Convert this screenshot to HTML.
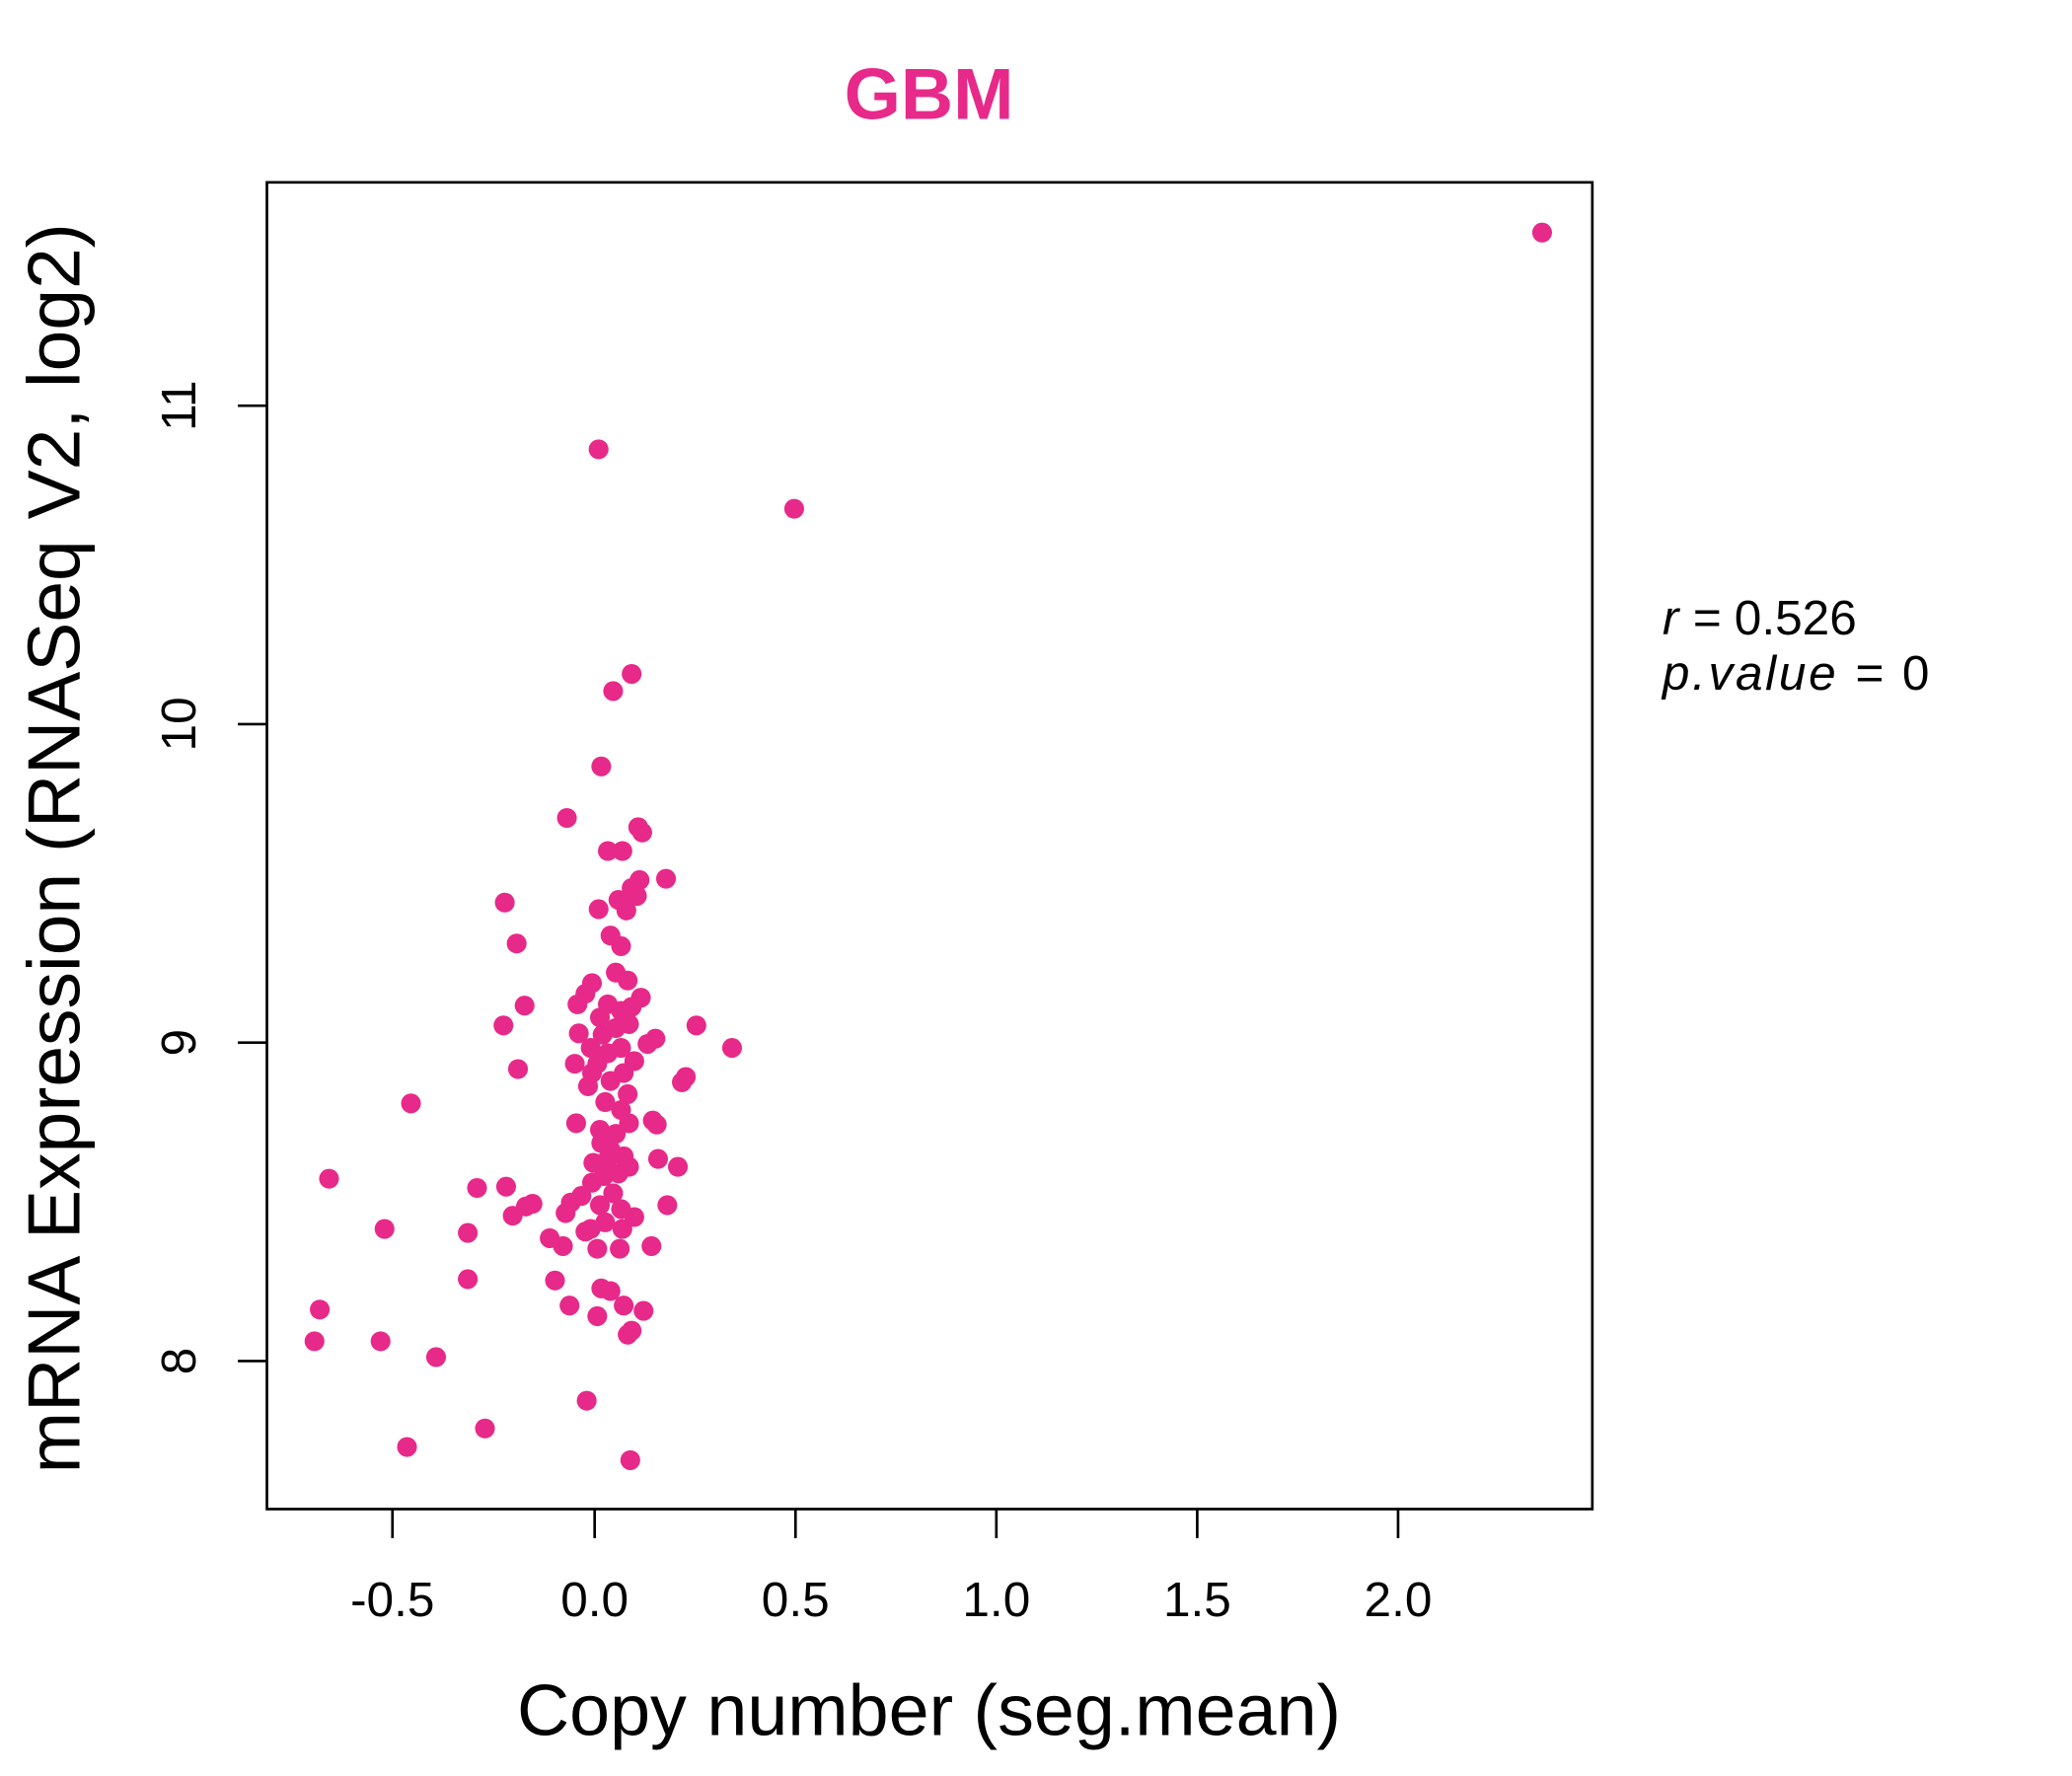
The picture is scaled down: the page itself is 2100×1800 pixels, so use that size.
<!DOCTYPE html>
<html><head><meta charset="utf-8"><style>
html,body{margin:0;padding:0;background:#fff}
svg{display:block}
</style></head><body>
<svg width="2100" height="1800" viewBox="0 0 1568 1344" xmlns="http://www.w3.org/2000/svg" font-family="Liberation Sans, Arial, sans-serif">
<rect width="1568" height="1344" fill="#fff"/>
<text x="703" y="90" text-anchor="middle" font-size="55" font-weight="bold" fill="#E7298A">GBM</text>
<rect x="202" y="138" width="1003" height="1004" fill="none" stroke="#000" stroke-width="2"/>
<g stroke="#000" stroke-width="2">
<line x1="297" y1="1142" x2="297" y2="1164"/><line x1="450" y1="1142" x2="450" y2="1164"/>
<line x1="602" y1="1142" x2="602" y2="1164"/><line x1="754" y1="1142" x2="754" y2="1164"/>
<line x1="906" y1="1142" x2="906" y2="1164"/><line x1="1058" y1="1142" x2="1058" y2="1164"/>
<line x1="202" y1="1030" x2="180" y2="1030"/><line x1="202" y1="789" x2="180" y2="789"/>
<line x1="202" y1="548" x2="180" y2="548"/><line x1="202" y1="307" x2="180" y2="307"/>
</g>
<g font-size="37" text-anchor="middle" fill="#000">
<text x="297" y="1223">-0.5</text><text x="450" y="1223">0.0</text><text x="602" y="1223">0.5</text>
<text x="754" y="1223">1.0</text><text x="906" y="1223">1.5</text><text x="1058" y="1223">2.0</text>
<text transform="translate(148,1030) rotate(-90)">8</text>
<text transform="translate(148,789) rotate(-90)">9</text>
<text transform="translate(148,548) rotate(-90)">10</text>
<text transform="translate(148,307) rotate(-90)">11</text>
</g>
<text x="703" y="1313" text-anchor="middle" font-size="55">Copy number (seg.mean)</text>
<text transform="translate(60,642) rotate(-90)" text-anchor="middle" font-size="56">mRNA Expression (RNASeq V2, log2)</text>
<text x="1258" y="480" font-size="37" font-style="italic">r = <tspan font-style="normal">0.526</tspan></text>
<text x="1258" y="522" font-size="37" font-style="italic" letter-spacing="2">p.value = <tspan font-style="normal">0</tspan></text>
<g fill="#E7298A">
<circle cx="1167" cy="176" r="7.5"/><circle cx="453" cy="340" r="7.5"/><circle cx="601" cy="385" r="7.5"/>
<circle cx="478" cy="510" r="7.5"/><circle cx="464" cy="523" r="7.5"/><circle cx="455" cy="580" r="7.5"/>
<circle cx="429" cy="619" r="7.5"/><circle cx="483" cy="626" r="7.5"/><circle cx="486" cy="630" r="7.5"/>
<circle cx="460" cy="644" r="7.5"/><circle cx="471" cy="644" r="7.5"/><circle cx="504" cy="665" r="7.5"/>
<circle cx="484" cy="666" r="7.5"/><circle cx="478" cy="672" r="7.5"/><circle cx="482" cy="678" r="7.5"/>
<circle cx="382" cy="683" r="7.5"/><circle cx="453" cy="688" r="7.5"/><circle cx="468" cy="681" r="7.5"/>
<circle cx="474" cy="689" r="7.5"/><circle cx="391" cy="714" r="7.5"/><circle cx="462" cy="708" r="7.5"/>
<circle cx="470" cy="716" r="7.5"/><circle cx="466" cy="736" r="7.5"/><circle cx="448" cy="744" r="7.5"/>
<circle cx="475" cy="742" r="7.5"/><circle cx="485" cy="755" r="7.5"/><circle cx="443" cy="752" r="7.5"/>
<circle cx="397" cy="761" r="7.5"/><circle cx="437" cy="760" r="7.5"/><circle cx="381" cy="776" r="7.5"/>
<circle cx="527" cy="776" r="7.5"/><circle cx="554" cy="793" r="7.5"/><circle cx="496" cy="786" r="7.5"/>
<circle cx="438" cy="782" r="7.5"/><circle cx="392" cy="809" r="7.5"/><circle cx="435" cy="805" r="7.5"/>
<circle cx="519" cy="815" r="7.5"/><circle cx="516" cy="819" r="7.5"/><circle cx="311" cy="835" r="7.5"/>
<circle cx="436" cy="850" r="7.5"/><circle cx="494" cy="848" r="7.5"/><circle cx="497" cy="851" r="7.5"/>
<circle cx="249" cy="892" r="7.5"/><circle cx="361" cy="899" r="7.5"/><circle cx="383" cy="898" r="7.5"/>
<circle cx="498" cy="877" r="7.5"/><circle cx="513" cy="883" r="7.5"/><circle cx="403" cy="911" r="7.5"/>
<circle cx="398" cy="913" r="7.5"/><circle cx="388" cy="920" r="7.5"/><circle cx="505" cy="912" r="7.5"/>
<circle cx="291" cy="930" r="7.5"/><circle cx="354" cy="933" r="7.5"/><circle cx="416" cy="937" r="7.5"/>
<circle cx="426" cy="943" r="7.5"/><circle cx="493" cy="943" r="7.5"/><circle cx="354" cy="968" r="7.5"/>
<circle cx="420" cy="969" r="7.5"/><circle cx="242" cy="991" r="7.5"/><circle cx="431" cy="988" r="7.5"/>
<circle cx="452" cy="996" r="7.5"/><circle cx="487" cy="992" r="7.5"/><circle cx="472" cy="988" r="7.5"/>
<circle cx="238" cy="1015" r="7.5"/><circle cx="288" cy="1015" r="7.5"/><circle cx="330" cy="1027" r="7.5"/>
<circle cx="475" cy="1010" r="7.5"/><circle cx="444" cy="1060" r="7.5"/><circle cx="367" cy="1081" r="7.5"/>
<circle cx="308" cy="1095" r="7.5"/><circle cx="477" cy="1105" r="7.5"/>
<circle cx="455" cy="975" r="7.5"/><circle cx="462" cy="977" r="7.5"/><circle cx="478" cy="1007" r="7.5"/>
<circle cx="428" cy="918" r="7.5"/><circle cx="432" cy="910" r="7.5"/><circle cx="440" cy="905" r="7.5"/>
<circle cx="447" cy="930" r="7.5"/><circle cx="452" cy="945" r="7.5"/><circle cx="469" cy="945" r="7.5"/>
<circle cx="458" cy="925" r="7.5"/><circle cx="471" cy="930" r="7.5"/><circle cx="480" cy="921" r="7.5"/>
<circle cx="454" cy="912" r="7.5"/><circle cx="464" cy="903" r="7.5"/><circle cx="470" cy="915" r="7.5"/>
<circle cx="448" cy="895" r="7.5"/><circle cx="457" cy="890" r="7.5"/><circle cx="468" cy="888" r="7.5"/>
<circle cx="476" cy="883" r="7.5"/><circle cx="449" cy="880" r="7.5"/><circle cx="460" cy="877" r="7.5"/>
<circle cx="472" cy="875" r="7.5"/><circle cx="455" cy="865" r="7.5"/><circle cx="466" cy="858" r="7.5"/>
<circle cx="454" cy="855" r="7.5"/><circle cx="470" cy="840" r="7.5"/><circle cx="475" cy="828" r="7.5"/>
<circle cx="458" cy="834" r="7.5"/><circle cx="445" cy="822" r="7.5"/><circle cx="462" cy="818" r="7.5"/>
<circle cx="472" cy="812" r="7.5"/><circle cx="452" cy="805" r="7.5"/><circle cx="480" cy="803" r="7.5"/>
<circle cx="460" cy="797" r="7.5"/><circle cx="470" cy="793" r="7.5"/><circle cx="447" cy="793" r="7.5"/>
<circle cx="490" cy="790" r="7.5"/><circle cx="456" cy="783" r="7.5"/><circle cx="466" cy="778" r="7.5"/>
<circle cx="476" cy="775" r="7.5"/><circle cx="454" cy="770" r="7.5"/><circle cx="470" cy="765" r="7.5"/>
<circle cx="460" cy="760" r="7.5"/><circle cx="478" cy="762" r="7.5"/><circle cx="448" cy="812" r="7.5"/>
<circle cx="476" cy="850" r="7.5"/><circle cx="462" cy="870" r="7.5"/><circle cx="443" cy="932" r="7.5"/>
</g>
</svg>
</body></html>
